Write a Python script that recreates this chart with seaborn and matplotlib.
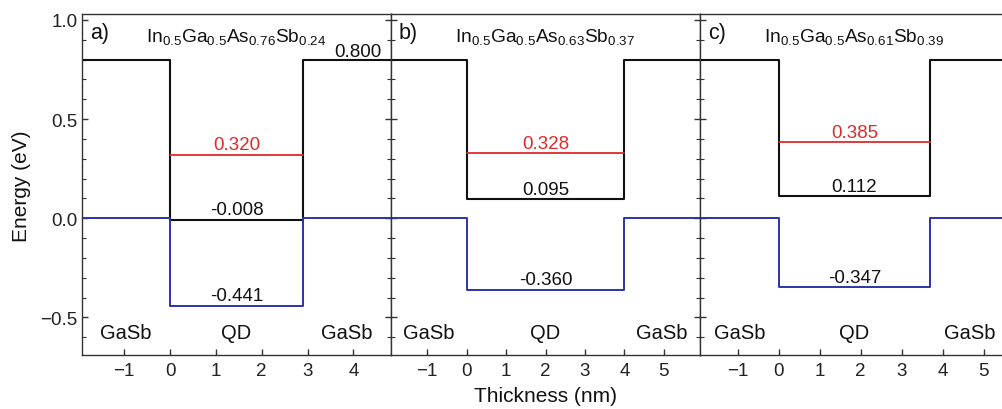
import numpy as np
import pandas as pd
import matplotlib
matplotlib.use("Agg")
import matplotlib.pyplot as plt
import seaborn as sns
from matplotlib.ticker import MultipleLocator

# ---- data ----
panel_tags = ["a)", "b)", "c)"]
compositions = [
    r"In$_{0.5}$Ga$_{0.5}$As$_{0.76}$Sb$_{0.24}$",
    r"In$_{0.5}$Ga$_{0.5}$As$_{0.63}$Sb$_{0.37}$",
    r"In$_{0.5}$Ga$_{0.5}$As$_{0.61}$Sb$_{0.39}$",
]
qd_width = [2.9, 4.0, 3.7]          # nm
barrier_width = 1.92                 # nm shown on each side
cb_barrier = 0.800                   # eV
vb_barrier = 0.0                     # eV
cb_well = [-0.008, 0.095, 0.112]
e_level = [0.320, 0.328, 0.385]
vb_well = [-0.441, -0.360, -0.347]
region_labels = ["GaSb", "QD", "GaSb"]

sns.set_theme(style="ticks")
plt.rcParams.update({
    "font.family": ["Liberation Sans", "DejaVu Sans"],
    "mathtext.fontset": "custom",
    "mathtext.rm": "Liberation Sans",
    "mathtext.it": "Liberation Sans:italic",
    "mathtext.bf": "Liberation Sans:bold",
    "axes.edgecolor": "#333333",
    "axes.linewidth": 1.0,
    "xtick.direction": "in",
    "ytick.direction": "in",
    "xtick.color": "#333333",
    "ytick.color": "#333333",
    "xtick.labelcolor": "#222222",
    "ytick.labelcolor": "#222222",
})

W, H = 1002, 410
fig = plt.figure(figsize=(W / 100, H / 100), dpi=100)
top_px, bot_px = 15, 356
panel_px = 309
lefts = [82, 391, 700]

colors = {"CB": "#111111", "VB": "#2b33a8", "E": "#e02a2a"}

for i in range(3):
    ax = fig.add_axes([lefts[i] / W, 1 - bot_px / H, panel_px / W, (bot_px - top_px) / H])
    w = qd_width[i]
    xl, xr = -barrier_width, w + barrier_width
    rows = []
    for x, y in zip([xl, 0, 0, w, w, xr], [cb_barrier, cb_barrier, cb_well[i], cb_well[i], cb_barrier, cb_barrier]):
        rows.append(("CB", x, y))
    for x, y in zip([xl, 0, 0, w, w, xr], [vb_barrier, vb_barrier, vb_well[i], vb_well[i], vb_barrier, vb_barrier]):
        rows.append(("VB", x, y))
    for x, y in zip([0, w], [e_level[i], e_level[i]]):
        rows.append(("E", x, y))
    df = pd.DataFrame(rows, columns=["band", "x", "E"])
    for band, lw in [("CB", 1.5), ("VB", 1.4), ("E", 1.3)]:
        sns.lineplot(data=df[df.band == band], x="x", y="E", sort=False, estimator=None,
                     color=colors[band], lw=lw, ax=ax, legend=False)

    ax.set_xlim(xl, xr)
    ax.set_ylim(-0.69, 1.03)
    ax.set_xlabel("")
    ax.set_ylabel("")
    ax.xaxis.set_major_locator(MultipleLocator(1))
    ax.yaxis.set_major_locator(MultipleLocator(0.5))
    ax.yaxis.set_minor_locator(MultipleLocator(0.1))
    ax.tick_params(axis="x", which="both", bottom=True, top=False, length=4, width=1.0,
                   labelsize=13.5, pad=5)
    ax.tick_params(axis="y", which="major", left=True, right=True, length=4, width=1.0,
                   labelsize=13.5, pad=3)
    ax.tick_params(axis="y", which="minor", left=True, right=True, length=3, width=0.8)
    if i == 0:
        ax.set_yticks([-0.5, 0.0, 0.5, 1.0])
        ax.set_yticklabels(["\u22120.5", "0.0", "0.5", "1.0"])
    else:
        ax.tick_params(axis="y", which="both", labelleft=False)

    # annotations
    ax.text(0.025, 0.947, panel_tags[i], transform=ax.transAxes, ha="left", va="center",
            fontsize=15.5, color="#111111")
    ax.text(w / 2, 0.895, compositions[i], ha="center", va="baseline", fontsize=13.8,
            color="#111111")
    off = 0.027
    ax.text(w / 2, e_level[i] + off, f"{e_level[i]:.3f}", ha="center", va="baseline",
            fontsize=13.5, color=colors["E"])
    ax.text(w / 2, cb_well[i] + off, f"{cb_well[i]:.3f}", ha="center", va="baseline",
            fontsize=13.5, color="#111111")
    ax.text(w / 2, vb_well[i] + off, f"{vb_well[i]:.3f}", ha="center", va="baseline",
            fontsize=13.5, color="#111111")
    if i == 0:
        ax.text(xr - 0.2, cb_barrier + 0.018, f"{cb_barrier:.3f}", ha="right", va="baseline",
                fontsize=13.5, color="#111111")
    for xc, lab in zip([-0.96, w / 2, w + 0.96], region_labels):
        ax.text(xc, -0.606, lab, ha="center", va="baseline", fontsize=14.5, color="#111111")

fig.text(545 / W, 1 - 397 / H, "Thickness (nm)", ha="center", va="center", fontsize=15,
         color="#111111")
fig.text(22 / W, 1 - 186 / H, "Energy (eV)", ha="center", va="center", rotation=90,
         fontsize=15, color="#111111")

fig.savefig("out.png", dpi=100)
